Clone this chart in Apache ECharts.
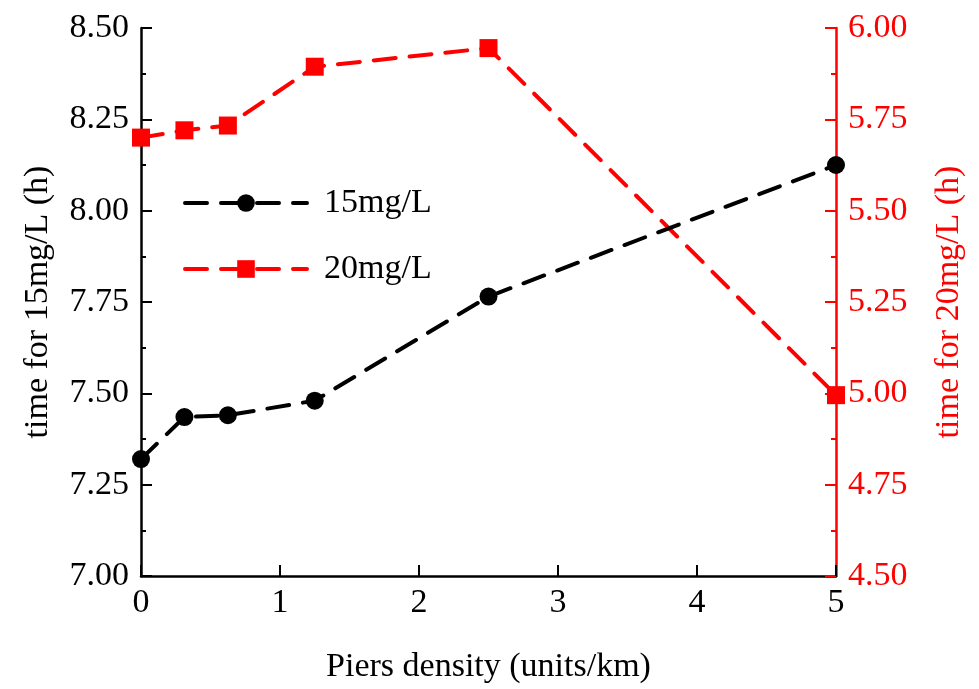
<!DOCTYPE html>
<html><head><meta charset="utf-8">
<script src="https://cdn.jsdelivr.net/npm/echarts@6/dist/echarts.min.js"></script>
<style>html,body{margin:0;padding:0;background:#fff}#c{width:979px;height:689px}</style>
</head><body><div id="c"></div>
<script>
const density = [0, 0.3125, 0.625, 1.25, 2.5, 5];
const time15 = [7.32, 7.435, 7.44, 7.48, 7.765, 8.125];
const time20 = [5.70, 5.72, 5.733, 5.894, 5.945, 4.995];
const seriesNames = ['15mg/L', '20mg/L'];
const leftTicks = [7.00, 8.50, 0.25];
const rightTicks = [4.50, 6.00, 0.25];

const FONT = 'Liberation Serif';
const chart = echarts.init(document.getElementById('c'));
chart.setOption({
  backgroundColor: '#fff',
  animation: false,
  grid: {left: 141, right: 143, top: 28, bottom: 111, containLabel: false},
  legend: {
    orient: 'vertical', left: 178, top: 181,
    itemWidth: 122, itemHeight: 22, itemGap: 32,
    lineStyle: {width: 4},
    textStyle: {fontFamily: FONT, fontSize: 34, color: '#000', padding: [0,0,0,12]},
    data: seriesNames
  },
  xAxis: {
    type: 'value', min: 0, max: 5, interval: 1,
    name: 'Piers density (units/km)', nameLocation: 'middle', nameGap: 74,
    nameTextStyle: {fontFamily: FONT, fontSize: 34, color: '#000'},
    axisLine: {show: true, onZero: false, lineStyle: {color: '#000', width: 2.5}},
    axisTick: {show: true, inside: true, length: 11, lineStyle: {color: '#000', width: 2}},
    axisLabel: {fontFamily: FONT, fontSize: 34, color: '#000', margin: 10},
    splitLine: {show: false}
  },
  yAxis: [{
    type: 'value', position: 'left', min: leftTicks[0], max: leftTicks[1], interval: leftTicks[2],
    name: 'time for 15mg/L (h)', nameLocation: 'middle', nameGap: 86, nameRotate: 90,
    nameTextStyle: {fontFamily: FONT, fontSize: 34, color: '#000'},
    axisLine: {show: true, onZero: false, lineStyle: {color: '#000', width: 2.5}},
    axisTick: {show: true, inside: true, length: 11, lineStyle: {color: '#000', width: 2}},
    minorTick: {show: true, splitNumber: 2, length: 5, lineStyle: {color: '#000', width: 2}},
    axisLabel: {fontFamily: FONT, fontSize: 34, color: '#000', margin: 12, formatter: v => v.toFixed(2)},
    splitLine: {show: false}
  }, {
    type: 'value', position: 'right', min: rightTicks[0], max: rightTicks[1], interval: rightTicks[2],
    name: 'time for 20mg/L (h)', nameLocation: 'middle', nameGap: 96, nameRotate: 90,
    nameTextStyle: {fontFamily: FONT, fontSize: 34, color: '#ff0000'},
    axisLine: {show: true, onZero: false, lineStyle: {color: '#ff0000', width: 2.5}},
    axisTick: {show: true, inside: true, length: 11, lineStyle: {color: '#ff0000', width: 2}},
    minorTick: {show: true, splitNumber: 2, length: 5, lineStyle: {color: '#ff0000', width: 2}},
    axisLabel: {fontFamily: FONT, fontSize: 34, color: '#ff0000', margin: 12, formatter: v => v.toFixed(2)},
    splitLine: {show: false}
  }],
  series: [{
    name: seriesNames[0], type: 'line', yAxisIndex: 0,
    data: density.map((x, i) => [x, time15[i]]),
    symbol: 'circle', symbolSize: 18,
    itemStyle: {color: '#000'},
    lineStyle: {color: '#000', width: 4, type: [22, 14], cap: 'round'},
    z: 3
  }, {
    name: seriesNames[1], type: 'line', yAxisIndex: 1,
    data: density.map((x, i) => [x, time20[i]]),
    symbol: 'rect', symbolSize: 18,
    itemStyle: {color: '#ff0000'},
    lineStyle: {color: '#ff0000', width: 4, type: [22, 14], cap: 'round'},
    z: 2
  }]
});
</script></body></html>
